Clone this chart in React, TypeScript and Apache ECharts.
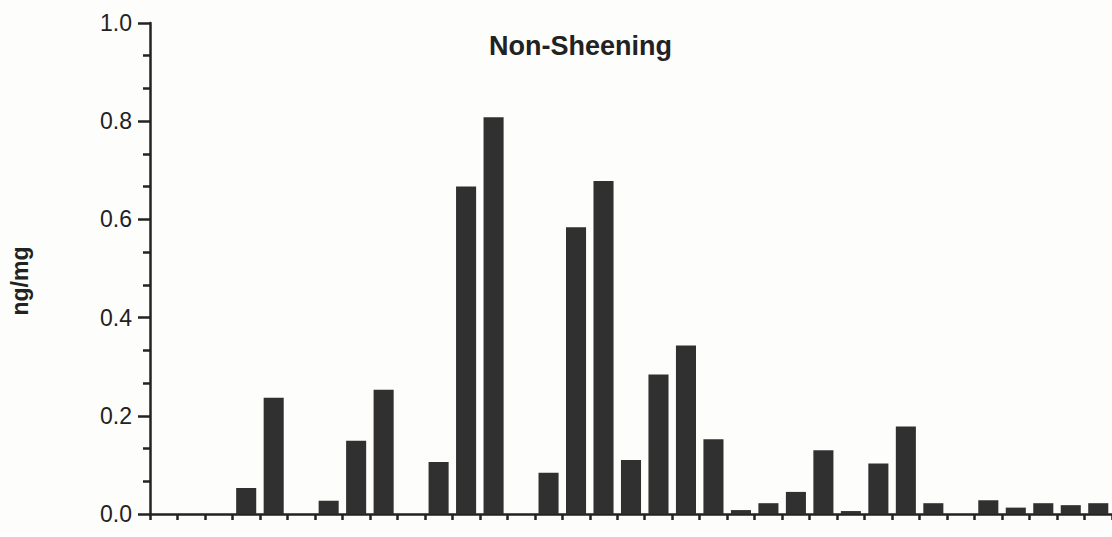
import React, { useEffect, useRef } from "react";
import * as echarts from "echarts";

const categories = [
  "1", "2", "3", "4", "5", "6", "7", "8", "9", "10",
  "11", "12", "13", "14", "15", "16", "17", "18", "19", "20",
  "21", "22", "23", "24", "25", "26", "27", "28", "29", "30",
  "31", "32", "33", "34", "35",
];
const values = [
  0, 0, 0, 0.053, 0.237, 0, 0.027, 0.149, 0.253, 0,
  0.106, 0.667, 0.808, 0, 0.084, 0.584, 0.678, 0.11, 0.284, 0.343,
  0.152, 0.008, 0.022, 0.045, 0.13, 0.006, 0.103, 0.178, 0.022, 0,
  0.028, 0.013, 0.022, 0.018, 0.022,
];
const titleText = "Non-Sheening";
const yAxisName = "ng/mg";

export default function App() {
  const ref = useRef<HTMLDivElement>(null);
  useEffect(() => {
    if (!ref.current) return;
    const chart = echarts.init(ref.current, null, { renderer: "svg" });
    const ink = "#222222";
    chart.setOption({
      animation: false,
      backgroundColor: "#fdfdfb",
      title: {
        text: titleText,
        left: 484,
        top: 27,
        textStyle: {
          fontFamily: "Liberation Sans",
          fontWeight: "bold",
          fontSize: 27,
          color: ink,
        },
      },
      graphic: [
        {
          type: "text",
          x: 20,
          y: 281,
          rotation: Math.PI / 2,
          style: {
            text: yAxisName,
            fontFamily: "Liberation Sans",
            fontWeight: "bold",
            fontSize: 23,
            fill: ink,
            align: "center",
            verticalAlign: "middle",
          },
        },
      ],
      grid: { left: 150, top: 23, bottom: 23, width: 962.5 },
      xAxis: {
        type: "category",
        data: categories,
        axisLine: { lineStyle: { color: ink, width: 2.5 } },
        axisTick: { show: true, length: 6, lineStyle: { color: ink, width: 2.5 } },
        axisLabel: { show: false },
        splitLine: { show: false },
      },
      yAxis: {
        type: "value",
        min: 0,
        max: 1,
        interval: 0.2,
        axisLine: { show: true, lineStyle: { color: ink, width: 2.5 } },
        axisTick: { show: true, length: 12, lineStyle: { color: ink, width: 2.5 } },
        minorTick: { show: true, splitNumber: 3, length: 7, lineStyle: { color: ink, width: 2.5 } },
        splitLine: { show: false },
        axisLabel: {
          margin: 18,
          fontFamily: "Liberation Sans",
          fontSize: 23,
          color: ink,
          formatter: (v: number) => v.toFixed(1),
        },
      },
      series: [
        {
          type: "bar",
          data: values,
          barWidth: "73%",
          itemStyle: { color: "#303030" },
        },
      ],
    });
    return () => chart.dispose();
  }, []);
  return (
    <div
      ref={ref}
      style={{ position: "fixed", left: 0, top: 0, width: 1112, height: 537 }}
    />
  );
}
